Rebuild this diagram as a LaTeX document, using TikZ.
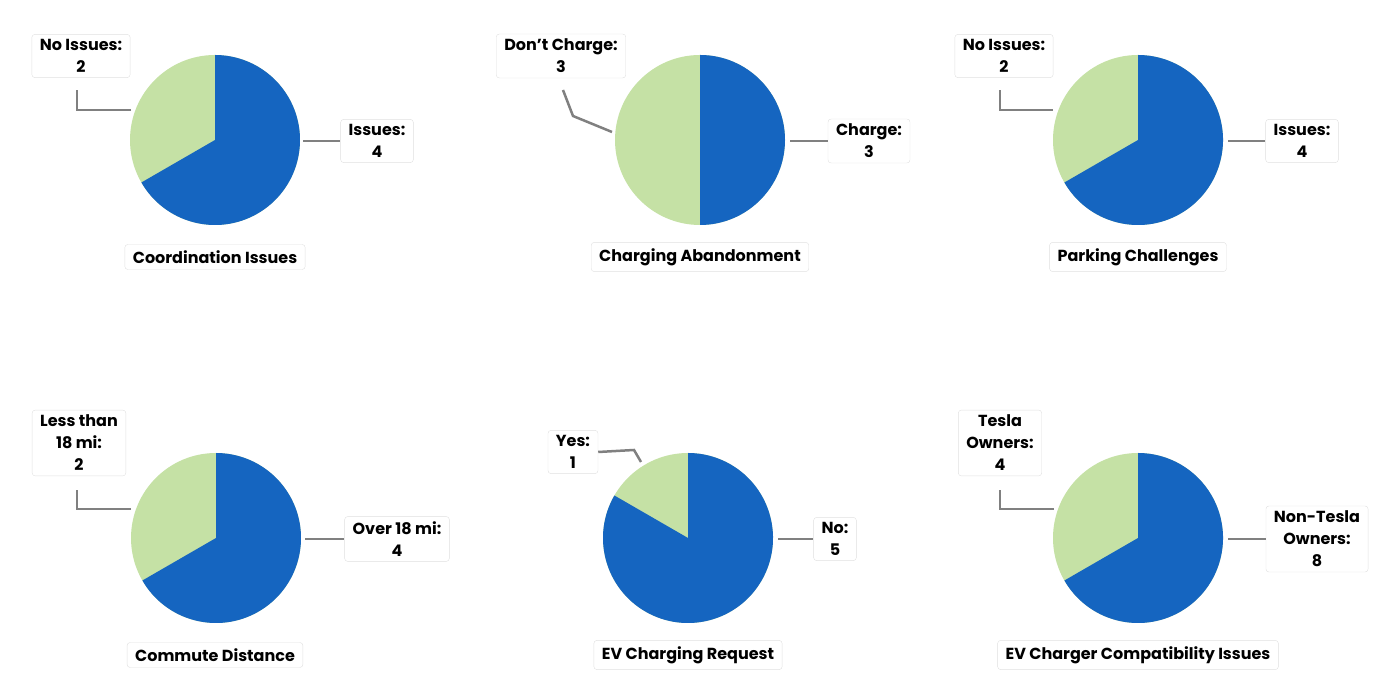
\documentclass[tikz,border=0pt]{standalone}
\usepackage{fontspec}
\setmainfont{Poppins}[BoldFont={* Bold}]
\begin{document}
\begin{tikzpicture}[x=1pt,y=1pt,
  lbl/.style={draw=black!12,fill=white,rounded corners=3pt,align=center,font=\fontsize{16}{22}\selectfont\bfseries,inner xsep=8pt,inner ysep=5pt},
  ttl/.style={lbl,inner ysep=6pt},
  lead/.style={draw=black!50,line width=2.5pt},
  pie/.style={}]
\useasboundingbox (0,0) rectangle (1400,700);
\definecolor{bl}{HTML}{1565C0}
\definecolor{gr}{HTML}{C5E1A5}
\newcommand{\mypie}[4]{% name, cx, cy, green angle
  \coordinate (#1) at (#2,#3);
  \fill[gr] (#1) circle[radius=85];
  \fill[bl] (#1) -- ++({90+#4}:85) arc[start angle={90+#4},end angle=450,radius=85] -- cycle;}
\mypie{p1}{215}{560}{120}
\mypie{p2}{700}{560}{180}
\mypie{p3}{1138}{560}{120}
\mypie{p4}{216}{162}{120}
\mypie{p5}{688}{162}{60}
\mypie{p6}{1138}{162}{120}
% row 1
\node[lbl] (a1) at (81,644) {No Issues:\\2};
\node[lbl] (b1) at (377,559) {Issues:\\4};
\node[ttl] (t1) at (215,443) {Coordination Issues};
\draw[lead] (131,590) -- (77,590) -- (77,610);
\draw[lead] (303,559) -- (b1.west);
\node[lbl] (a2) at (561,644) {Don’t Charge:\\3};
\node[lbl] (b2) at (869,559) {Charge:\\3};
\node[ttl] (t2) at (700,443) {Charging Abandonment};
\draw[lead] (612,568) -- (573,584) -- (563,610);
\draw[lead] (790,559) -- (b2.west);
\node[lbl] (a3) at (1004,644) {No Issues:\\2};
\node[lbl] (b3) at (1302,559) {Issues:\\4};
\node[ttl] (t3) at (1138,443) {Parking Challenges};
\draw[lead] (1053,590) -- (1000,590) -- (1000,610);
\draw[lead] (1228,559) -- (b3.west);
% row 2
\node[lbl] (a4) at (79,257) {Less than\\18 mi:\\2};
\node[lbl] (b4) at (397,161) {Over 18 mi:\\4};
\node[ttl] (t4) at (215,45) {Commute Distance};
\draw[lead] (131,191) -- (77,191) -- (77,210);
\draw[lead] (305,161) -- (b4.west);
\node[lbl] (a5) at (573,248) {Yes:\\1};
\node[lbl] (b5) at (835,161) {No:\\5};
\node[ttl] (t5) at (688,45) {EV Charging Request};
\draw[lead] (641,238) -- (634,250) -- (a5.east);
\draw[lead] (778,161) -- (b5.west);
\node[lbl] (a6) at (1000,257) {Tesla\\Owners:\\4};
\node[lbl] (b6) at (1317,161) {Non-Tesla\\Owners:\\8};
\node[ttl] (t6) at (1138,45) {EV Charger Compatibility Issues};
\draw[lead] (1054,191) -- (1000,191) -- (1000,210);
\draw[lead] (1228,161) -- (b6.west);
\end{tikzpicture}
\end{document}
